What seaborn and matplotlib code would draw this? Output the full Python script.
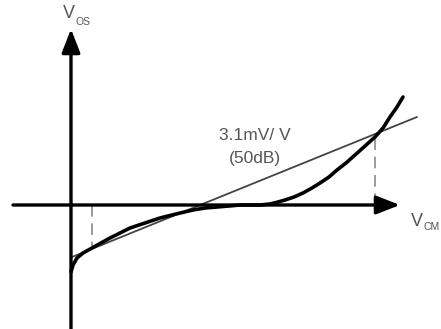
import numpy as np
import pandas as pd
import matplotlib
matplotlib.use("Agg")
import matplotlib.pyplot as plt
import seaborn as sns

# offset voltage vs common-mode voltage (arbitrary units)
curve_x = [0, 2, 6, 12, 21, 30, 39, 49, 59, 74, 89, 105, 122, 134, 146, 158, 169, 179, 189,
           199, 207, 214, 223, 232, 241, 249, 258, 266, 275, 284, 294, 304, 312, 319, 326, 332]
curve_y = [-67, -60, -53, -48, -43, -38, -33, -28, -23, -18, -13, -9, -5, -3, -2, -1, 0, 0, 0,
           1, 3, 5, 8, 12, 17, 22, 28, 35, 42, 50, 59, 68, 77, 88, 98, 108]

# best-fit straight line (3.1mV/V)
fit_x = [1, 346]
fit_y = [-52, 88]

# points where the curve meets the fit line
cross_x = [21, 304]
cross_y = [-43, 68]

sns.set_style("white")
plt.rcParams['font.family'] = ['Liberation Sans', 'DejaVu Sans']

fig = plt.figure(figsize=(4.41, 3.29), dpi=100)
ax = fig.add_axes([0, 0, 1, 1])
ax.set_xlim(-71, 370)
ax.set_ylim(-124, 205)
ax.axis('off')

# axes with arrow heads
arrow = dict(arrowstyle='-|>,head_length=0.9,head_width=0.35', lw=2.4, color='black',
             mutation_scale=16, shrinkA=0, shrinkB=0)
ax.annotate('', xy=(329, 0), xytext=(-58, 0), arrowprops=arrow)
ax.annotate('', xy=(0, 176), xytext=(0, -126), arrowprops=arrow)

# dashed drop lines
for cx, cy in zip(cross_x, cross_y):
    ax.plot([cx, cx], [0, cy], color='#8a8a8a', lw=1.2, dashes=(7, 4))

sns.lineplot(x=fit_x, y=fit_y, color='#444444', lw=1.3, ax=ax, sort=False, estimator=None)
sns.lineplot(x=curve_x, y=curve_y, color='black', lw=2.6, ax=ax, sort=False, estimator=None)

ax.text(184, 69, '3.1mV/ V', ha='center', va='center', fontsize=12.5, color='#555555')
ax.text(184, 47, '(50dB)', ha='center', va='center', fontsize=12.5, color='#555555')

ax.text(-2.5, 192, 'V', ha='center', va='center', fontsize=13, color='#555555')
ax.text(4, 183, 'OS', ha='left', va='center', fontsize=7.5, color='#555555')
ax.text(346, -16, 'V', ha='center', va='center', fontsize=13, color='#555555')
ax.text(352, -22, 'CM', ha='left', va='center', fontsize=7.5, color='#555555')

fig.savefig('out.png', dpi=100)
